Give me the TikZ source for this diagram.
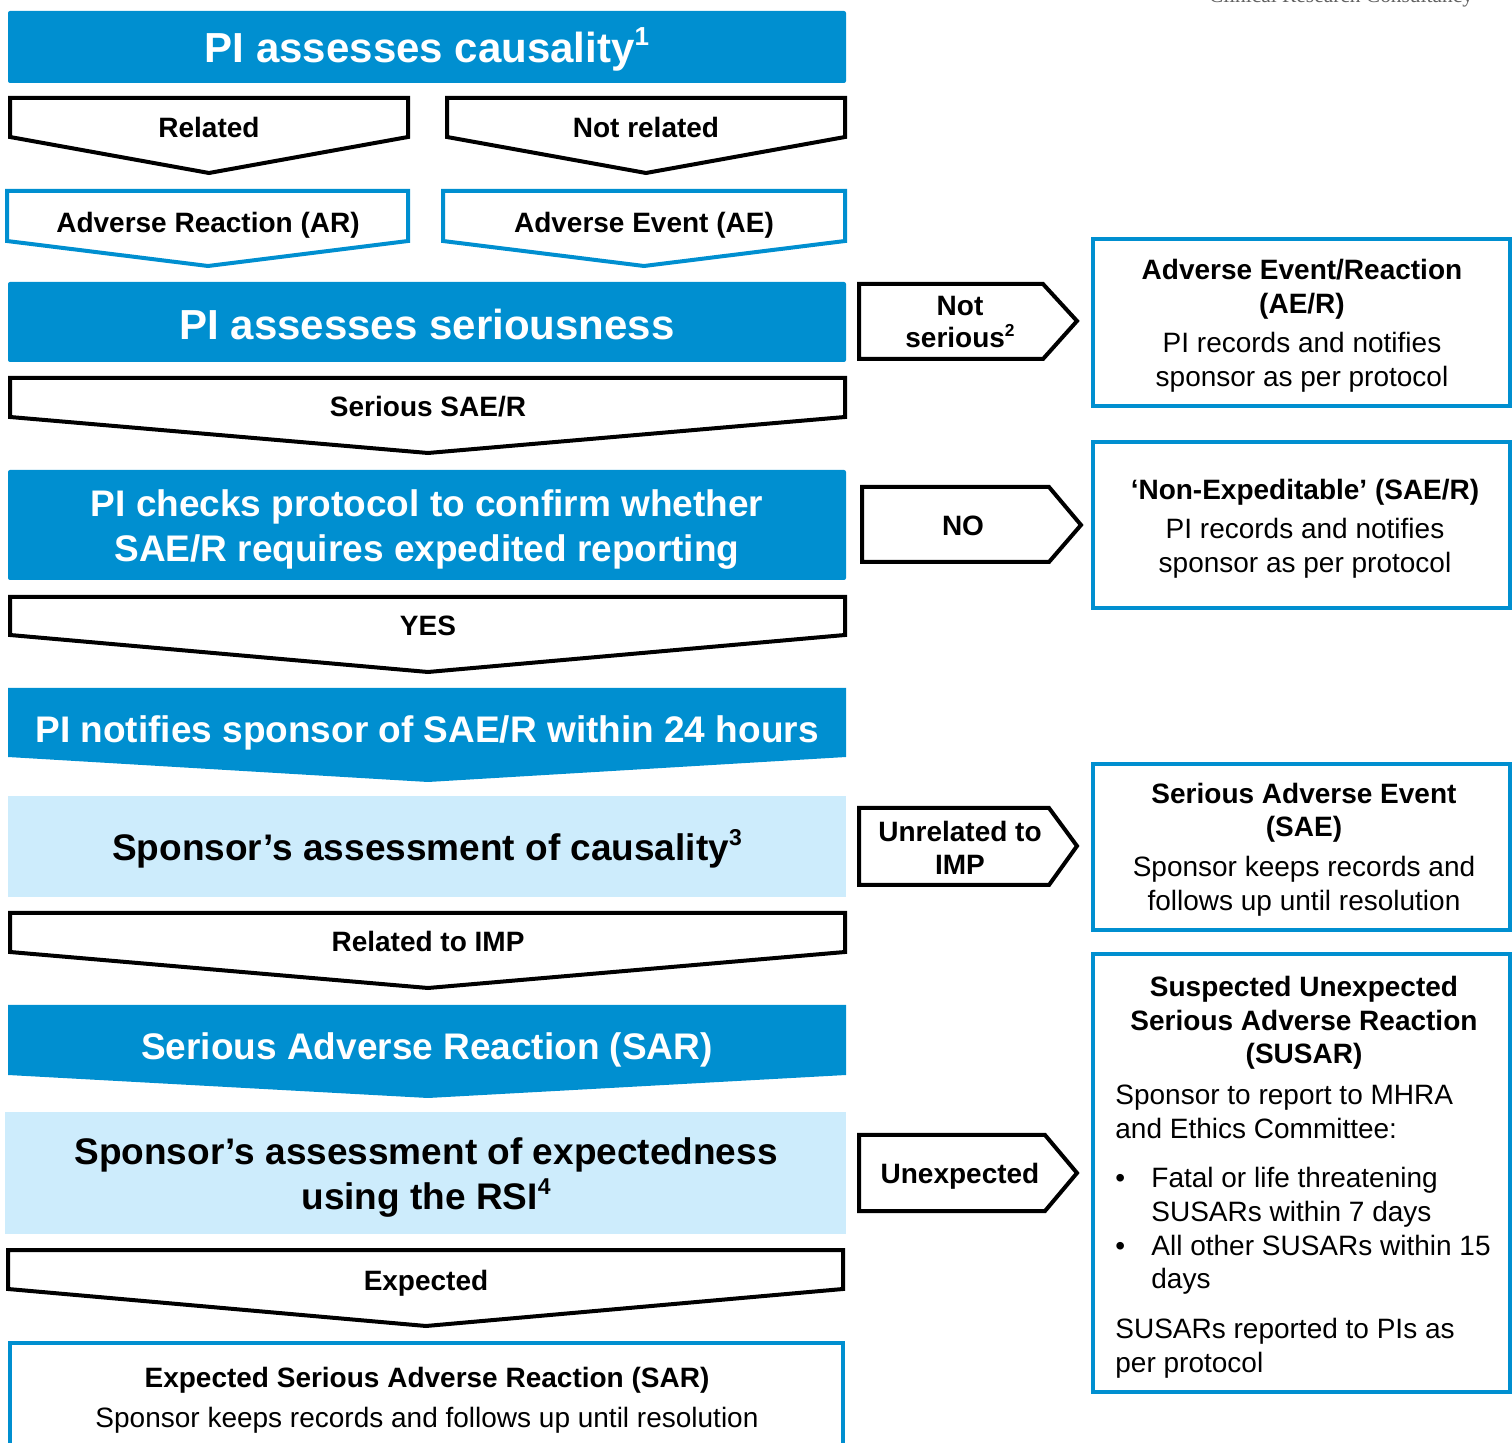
\documentclass[tikz,border=0pt]{standalone}
\usepackage{fontspec}
\setmainfont{Liberation Sans}
\newfontfamily\brandserif{Liberation Serif}
\definecolor{cblue}{RGB}{0,143,208}
\definecolor{lblue}{RGB}{205,236,252}
\newcommand{\mysup}[1]{\raisebox{0.42em}{\scalebox{0.62}{#1}}}
\tikzset{
  chevk/.style={draw=black, line width=2pt, fill=white},
  chevb/.style={draw=cblue, line width=2pt, fill=white},
  outbox/.style={draw=cblue, line width=2pt, fill=white},
  bluefill/.style={fill=cblue},
  lightfill/.style={fill=lblue},
  lb/.style={anchor=base, inner sep=0pt},
  lbw/.style={anchor=base west, inner sep=0pt},
  fbig/.style={font=\fontsize{21}{25}\selectfont\bfseries, text=white},
  fmid/.style={font=\fontsize{18.5}{22}\selectfont\bfseries},
  fsb/.style={font=\fontsize{14}{17}\selectfont\bfseries},
  fsr/.style={font=\fontsize{14}{17}\selectfont},
}
\begin{document}
\begin{tikzpicture}[x=0.5pt,y=-0.5pt]
\useasboundingbox (0,0) rectangle (1512,1443);
\clip (0,0) rectangle (1512,1443);

% brand text (cut at the top, as in the reference)
\node[lb, text=black!62, font=\brandserif\fontsize{10.7}{12}\selectfont] (brand) at (1341,3) {Clinical Research Consultancy};

% ---- left column ----
\fill[bluefill, rounded corners=1pt] (8,11) rectangle (846,83);
\node[lb, fbig] (causal) at (427,63) {PI assesses causality\mysup{1}};

\draw[chevk] (10,98) -- (408,98) -- (408,137) -- (209,173) -- (10,137) -- cycle;
\node[lb, fsb] (rel) at (209,138) {Related};
\draw[chevk] (447,98) -- (845,98) -- (845,137) -- (646,173) -- (447,137) -- cycle;
\node[lb, fsb] (notrel) at (646,138) {Not related};

\draw[chevb] (7,191) -- (408,191) -- (408,241) -- (208,266) -- (7,241) -- cycle;
\node[lb, fsb] (ar) at (208,233) {Adverse Reaction (AR)};
\draw[chevb] (443,191) -- (845,191) -- (845,241) -- (644,266) -- (443,241) -- cycle;
\node[lb, fsb] (ae) at (644,233) {Adverse Event (AE)};

\fill[bluefill, rounded corners=1pt] (8,282) rectangle (846,362);
\node[lb, fbig] (serious) at (427,340) {PI assesses seriousness};

\draw[chevk] (10,378) -- (845,378) -- (845,417) -- (428,453) -- (10,417) -- cycle;
\node[lb, fsb] (sae) at (428,417) {Serious SAE/R};

\fill[bluefill, rounded corners=1pt] (8,470) rectangle (846,580);
\node[lb, fmid, text=white] (check1) at (427,517) {PI checks protocol to confirm whether};
\node[lb, fmid, text=white] (check2) at (427,562) {SAE/R requires expedited reporting};

\draw[chevk] (10,597) -- (845,597) -- (845,635) -- (428,672) -- (10,635) -- cycle;
\node[lb, fsb] (yes) at (428,636) {YES};

\fill[bluefill] (8,688) -- (846,688) -- (846,757) -- (428,782) -- (8,757) -- cycle;
\node[lb, fmid, text=white] (notify) at (427,743) {PI notifies sponsor of SAE/R within 24 hours};

\fill[lightfill] (8,796) rectangle (846,897);
\node[lb, fmid] (spcaus) at (427,861) {Sponsor’s assessment of causality\mysup{3}};

\draw[chevk] (10,913) -- (845,913) -- (845,952) -- (428,988) -- (10,952) -- cycle;
\node[lb, fsb] (relimp) at (428,952) {Related to IMP};

\fill[bluefill] (8,1005) -- (846,1005) -- (846,1075) -- (428,1098) -- (8,1075) -- cycle;
\node[lb, fmid, text=white] (sar) at (427,1060) {Serious Adverse Reaction (SAR)};

\fill[lightfill] (5,1112) rectangle (846,1234);
\node[lb, fmid] (spexp1) at (426,1165) {Sponsor’s assessment of expectedness};
\node[lb, fmid] (spexp2) at (426,1210) {using the RSI\mysup{4}};

\draw[chevk] (8,1250) -- (843,1250) -- (843,1289) -- (426,1326) -- (8,1289) -- cycle;
\node[lb, fsb] (expected) at (426,1290) {Expected};

\draw[outbox] (10,1343) rectangle (843,1470);
\node[lb, fsb] (esar1) at (427,1387) {Expected Serious Adverse Reaction (SAR)};
\node[lb, fsr] (esar2) at (427,1427) {Sponsor keeps records and follows up until resolution};

% ---- side arrows ----
\draw[chevk] (859,284) -- (1043,284) -- (1077,321) -- (1043,359) -- (859,359) -- cycle;
\node[lb, fsb] (ns1) at (960,316) {Not};
\node[lb, fsb] (ns2) at (960,348) {serious\mysup{2}};

\draw[chevk] (862,487) -- (1049,487) -- (1081,525) -- (1049,562) -- (862,562) -- cycle;
\node[lb, fsb] (no) at (963,536) {NO};

\draw[chevk] (859,808) -- (1049,808) -- (1077,846) -- (1049,885) -- (859,885) -- cycle;
\node[lb, fsb] (unrel1) at (960,842) {Unrelated to};
\node[lb, fsb] (unrel2) at (960,875) {IMP};

\draw[chevk] (859,1135) -- (1045,1135) -- (1077,1173) -- (1045,1211) -- (859,1211) -- cycle;
\node[lb, fsb] (unexp) at (960,1183) {Unexpected};

% ---- right boxes ----
\draw[outbox] (1093,239) rectangle (1510,406);
\node[lb, fsb] (aer1) at (1302,280) {Adverse Event/Reaction};
\node[lb, fsb] (aer2) at (1302,314) {(AE/R)};
\node[lb, fsr] (aer3) at (1302,353) {PI records and notifies};
\node[lb, fsr] (aer4) at (1302,387) {sponsor as per protocol};

\draw[outbox] (1093,442) rectangle (1510,608);
\node[lb, fsb] (nex1) at (1305,500) {‘Non-Expeditable’ (SAE/R)};
\node[lb, fsr] (nex2) at (1305,539) {PI records and notifies};
\node[lb, fsr] (nex3) at (1305,573) {sponsor as per protocol};

\draw[outbox] (1093,764) rectangle (1510,930);
\node[lb, fsb] (sae1) at (1304,804) {Serious Adverse Event};
\node[lb, fsb] (sae2) at (1304,837) {(SAE)};
\node[lb, fsr] (sae3) at (1304,877) {Sponsor keeps records and};
\node[lb, fsr] (sae4) at (1304,911) {follows up until resolution};

\draw[outbox] (1093,954) rectangle (1510,1392);
\node[lb, fsb] (sus1) at (1304,997) {Suspected Unexpected};
\node[lb, fsb] (sus2) at (1304,1031) {Serious Adverse Reaction};
\node[lb, fsb] (sus3) at (1304,1064) {(SUSAR)};
\node[lbw, fsr] (sus4) at (1115,1104) {Sponsor to report to MHRA};
\node[lbw, fsr] (sus5) at (1115,1138) {and Ethics Committee:};
\node[lbw, fsr] (bul1) at (1115,1188) {•};
\node[lbw, fsr] (sus6) at (1151,1188) {Fatal or life threatening};
\node[lbw, fsr] (sus7) at (1151,1221) {SUSARs within 7 days};
\node[lbw, fsr] (bul2) at (1115,1255) {•};
\node[lbw, fsr] (sus8) at (1151,1255) {All other SUSARs within 15};
\node[lbw, fsr] (sus9) at (1151,1288) {days};
\node[lbw, fsr] (sus10) at (1115,1338) {SUSARs reported to PIs as};
\node[lbw, fsr] (sus11) at (1115,1372) {per protocol};
\end{tikzpicture}
\end{document}
